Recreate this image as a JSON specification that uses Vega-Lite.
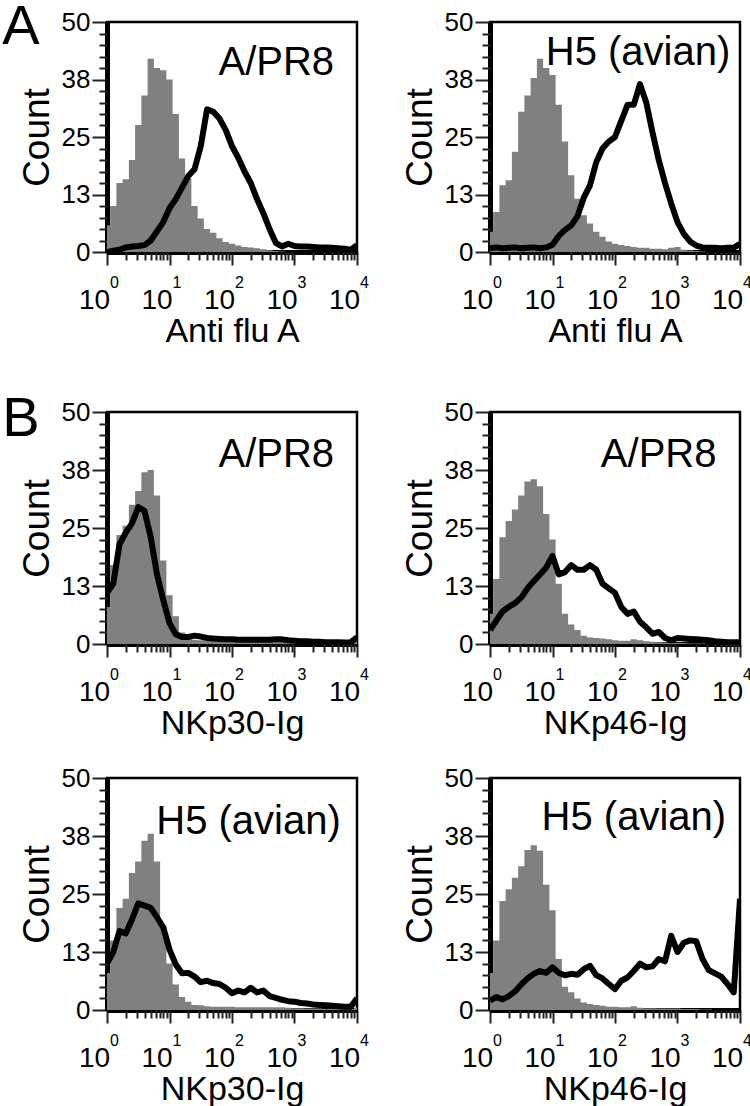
{
  "$schema": "https://vega.github.io/schema/vega-lite/v6.json",
  "padding": {"top": -3, "left": 0, "right": 0, "bottom": 0},
  "background": "white",
  "datasets": {
    "h": [
      {"fl":1,"a1g":5.8,"a1b":0,"a2g":4.4,"a2b":0.8,"b1g":8,"b1b":11,"b2g":6.5,"b2b":3,"b3g":8,"b3b":10,"b4g":8,"b4b":2},
      {"fl":1.259,"a1g":10,"a1b":0.3,"a2g":8.7,"a2b":1,"b1g":17,"b1b":13,"b2g":14,"b2b":5,"b3g":15,"b3b":12.5,"b4g":15,"b4b":2.8},
      {"fl":1.585,"a1g":15,"a1b":0.5,"a2g":14.5,"a2b":0.8,"b1g":23.5,"b1b":21.5,"b2g":23,"b2b":7,"b3g":22,"b3b":17,"b4g":23.5,"b4b":2.3},
      {"fl":1.995,"a1g":15.8,"a1b":1,"a2g":15.6,"a2b":0.9,"b1g":25.5,"b1b":24,"b2g":26.5,"b2b":8,"b3g":24,"b3b":16.5,"b4g":26,"b4b":3},
      {"fl":2.512,"a1g":20,"a1b":1.2,"a2g":21.8,"a2b":1,"b1g":30,"b1b":26,"b2g":29,"b2b":8.8,"b3g":29.5,"b3b":19.5,"b4g":28.5,"b4b":4},
      {"fl":3.162,"a1g":27.6,"a1b":1.3,"a2g":30.5,"a2b":0.8,"b1g":33,"b1b":29.5,"b2g":32,"b2b":10,"b3g":32,"b3b":23,"b4g":31,"b4b":5.5},
      {"fl":3.981,"a1g":34,"a1b":1.5,"a2g":34,"a2b":0.9,"b1g":37,"b1b":28.7,"b2g":35,"b2b":12,"b3g":36.5,"b3b":22.5,"b4g":34.5,"b4b":6.8},
      {"fl":5.012,"a1g":42,"a1b":2.5,"a2g":37.8,"a2b":1,"b1g":37.5,"b1b":23,"b2g":35.5,"b2b":13.5,"b3g":38,"b3b":22,"b4g":35.5,"b4b":7.8},
      {"fl":6.31,"a1g":40,"a1b":4.5,"a2g":42,"a2b":0.8,"b1g":32,"b1b":15,"b2g":34,"b2b":15,"b3g":32,"b3b":20,"b4g":34.3,"b4b":8.4},
      {"fl":7.943,"a1g":39.5,"a1b":6.5,"a2g":40,"a2b":1,"b1g":18,"b1b":9.5,"b2g":28,"b2b":16.5,"b3g":18,"b3b":17.8,"b4g":27,"b4b":8},
      {"fl":10,"a1g":37.5,"a1b":9.5,"a2g":38.5,"a2b":1.6,"b1g":10.5,"b1b":4.5,"b2g":22.5,"b2b":19,"b3g":10,"b3b":13,"b4g":21.5,"b4b":9.2},
      {"fl":12.59,"a1g":30,"a1b":11.5,"a2g":32,"a2b":3.5,"b1g":6,"b1b":2.1,"b2g":13,"b2b":15,"b3g":5.5,"b3b":9.8,"b4g":11,"b4b":8},
      {"fl":15.85,"a1g":20.3,"a1b":14,"a2g":24,"a2b":4.8,"b1g":2.5,"b1b":1.5,"b2g":6.5,"b2b":15.5,"b3g":2.8,"b3b":7.9,"b4g":5,"b4b":7.5},
      {"fl":19.95,"a1g":16,"a1b":16.5,"a2g":16.7,"a2b":5.8,"b1g":1.3,"b1b":1.5,"b2g":4.2,"b2b":17,"b3g":1.8,"b3b":8,"b4g":3.8,"b4b":7.8},
      {"fl":25.12,"a1g":10,"a1b":18,"a2g":11.6,"a2b":7.8,"b1g":0.9,"b1b":1.8,"b2g":3,"b2b":16,"b3g":1.1,"b3b":7.2,"b4g":2.5,"b4b":7.6},
      {"fl":31.62,"a1g":7.3,"a1b":23,"a2g":8,"a2b":11.8,"b1g":0.8,"b1b":1.6,"b2g":1.8,"b2b":16,"b3g":1,"b3b":6,"b4g":1.6,"b4b":8.8},
      {"fl":39.81,"a1g":5,"a1b":31,"a2g":6.2,"a2b":14.5,"b1g":0.7,"b1b":1.3,"b2g":1.4,"b2b":17,"b3g":0.8,"b3b":6.3,"b4g":1.3,"b4b":9.5},
      {"fl":50.12,"a1g":4.2,"a1b":30.5,"a2g":4.4,"a2b":19.5,"b1g":0.7,"b1b":1.2,"b2g":1.3,"b2b":16,"b3g":0.7,"b3b":5.8,"b4g":1.1,"b4b":7.5},
      {"fl":63.1,"a1g":3,"a1b":29,"a2g":3.3,"a2b":22.5,"b1g":0.6,"b1b":1.1,"b2g":1.2,"b2b":13,"b3g":0.7,"b3b":5.6,"b4g":0.9,"b4b":6.8},
      {"fl":79.43,"a1g":2.2,"a1b":26.5,"a2g":2.3,"a2b":24,"b1g":0.6,"b1b":1,"b2g":1,"b2b":12,"b3g":0.7,"b3b":4.8,"b4g":0.7,"b4b":5.6},
      {"fl":100,"a1g":1.8,"a1b":23,"a2g":1.8,"a2b":25,"b1g":0.6,"b1b":1,"b2g":0.8,"b2b":11,"b3g":0.7,"b3b":3.6,"b4g":0.7,"b4b":4.5},
      {"fl":125.9,"a1g":1.4,"a1b":20.5,"a2g":1.5,"a2b":28.5,"b1g":0.5,"b1b":0.9,"b2g":0.7,"b2b":8,"b3g":0.6,"b3b":4.2,"b4g":0.6,"b4b":6.3},
      {"fl":158.5,"a1g":1.1,"a1b":17.5,"a2g":1.3,"a2b":32,"b1g":0.5,"b1b":0.9,"b2g":0.7,"b2b":6.5,"b3g":0.6,"b3b":3.8,"b4g":0.6,"b4b":7},
      {"fl":199.5,"a1g":1,"a1b":15,"a2g":1.1,"a2b":32,"b1g":0.5,"b1b":0.9,"b2g":1,"b2b":7,"b3g":0.6,"b3b":4.8,"b4g":0.8,"b4b":8.4},
      {"fl":251.2,"a1g":0.8,"a1b":11.5,"a2g":0.9,"a2b":36.5,"b1g":0.5,"b1b":0.9,"b2g":0.8,"b2b":4.8,"b3g":0.6,"b3b":3.8,"b4g":0.5,"b4b":10},
      {"fl":316.2,"a1g":0.6,"a1b":8.5,"a2g":0.9,"a2b":32.5,"b1g":0.5,"b1b":0.9,"b2g":0.6,"b2b":3.6,"b3g":0.6,"b3b":4.2,"b4g":0.4,"b4b":9.2},
      {"fl":398.1,"a1g":0.4,"a1b":5,"a2g":0.7,"a2b":26,"b1g":0.5,"b1b":0.9,"b2g":0.5,"b2b":2.2,"b3g":0.6,"b3b":3,"b4g":0.4,"b4b":9.4},
      {"fl":501.2,"a1g":0.2,"a1b":2,"a2g":0.7,"a2b":20,"b1g":0.5,"b1b":1,"b2g":0.4,"b2b":2.6,"b3g":0.6,"b3b":2.6,"b4g":0.3,"b4b":11},
      {"fl":631,"a1g":0.1,"a1b":1.2,"a2g":0.6,"a2b":15,"b1g":0.5,"b1b":1,"b2g":0.3,"b2b":1.3,"b3g":0.6,"b3b":2.2,"b4g":0.3,"b4b":10.5},
      {"fl":794.3,"a1g":0,"a1b":1.8,"a2g":0.9,"a2b":10.5,"b1g":0.5,"b1b":0.8,"b2g":0.2,"b2b":0.8,"b3g":0.5,"b3b":1.9,"b4g":0.3,"b4b":16},
      {"fl":1000,"a1g":0,"a1b":1.3,"a2g":1.1,"a2b":6.5,"b1g":0.5,"b1b":0.7,"b2g":0.2,"b2b":1.3,"b3g":0.4,"b3b":1.8,"b4g":0.3,"b4b":12.5},
      {"fl":1259,"a1g":0,"a1b":1.2,"a2g":0.5,"a2b":4,"b1g":0.5,"b1b":0.6,"b2g":0.2,"b2b":1.2,"b3g":0.4,"b3b":1.5,"b4g":0.2,"b4b":14.5},
      {"fl":1585,"a1g":0,"a1b":1.2,"a2g":0.3,"a2b":2.3,"b1g":0.5,"b1b":0.6,"b2g":0.1,"b2b":1.1,"b3g":0.3,"b3b":1.4,"b4g":0.2,"b4b":15},
      {"fl":1995,"a1g":0,"a1b":1.1,"a2g":0.2,"a2b":1.4,"b1g":0.5,"b1b":0.5,"b2g":0.1,"b2b":1,"b3g":0.3,"b3b":1.2,"b4g":0.2,"b4b":14.8},
      {"fl":2512,"a1g":0,"a1b":1,"a2g":0.1,"a2b":1,"b1g":0.5,"b1b":0.5,"b2g":0.1,"b2b":0.9,"b3g":0.3,"b3b":1.1,"b4g":0.1,"b4b":11},
      {"fl":3162,"a1g":0,"a1b":1,"a2g":0,"a2b":0.9,"b1g":0.5,"b1b":0.4,"b2g":0,"b2b":0.8,"b3g":0.2,"b3b":1,"b4g":0.1,"b4b":8.6},
      {"fl":3981,"a1g":0,"a1b":0.9,"a2g":0,"a2b":0.9,"b1g":0.5,"b1b":0.4,"b2g":0,"b2b":0.6,"b3g":0.2,"b3b":0.9,"b4g":0,"b4b":7.9},
      {"fl":5012,"a1g":0,"a1b":0.8,"a2g":0,"a2b":0.8,"b1g":0.5,"b1b":0.4,"b2g":0,"b2b":0.5,"b3g":0.2,"b3b":0.8,"b4g":0,"b4b":7.2},
      {"fl":6310,"a1g":0,"a1b":0.7,"a2g":0,"a2b":0.9,"b1g":0.5,"b1b":0.3,"b2g":0,"b2b":0.4,"b3g":0.2,"b3b":0.7,"b4g":0,"b4b":5.6},
      {"fl":7943,"a1g":0,"a1b":0.5,"a2g":0,"a2b":0.9,"b1g":0.5,"b1b":0.4,"b2g":0,"b2b":0.4,"b3g":0.2,"b3b":0.7,"b4g":0,"b4b":3.8},
      {"fl":10000,"a1g":0,"a1b":1.5,"a2g":0,"a2b":1.8,"b1g":1,"b1b":1.4,"b2g":0,"b2b":0.4,"b3g":0.5,"b3b":2.5,"b4g":0,"b4b":24}
    ],
    "exp": [
      {"fl": 1, "e": "0"}, {"fl": 10, "e": "1"}, {"fl": 100, "e": "2"}, {"fl": 1000, "e": "3"}, {"fl": 10000, "e": "4"}
    ]
  },
  "vconcat": [
    {
      "hconcat": [
        {
          "width": 250, "height": 230,
          "resolve": {"axis": {"x": "independent", "y": "independent"}},
          "layer": [
            {"data": {"name": "h"}, "mark": {"type": "area", "interpolate": "step", "color": "#808080", "clip": true},
             "encoding": {
               "x": {"field": "fl", "type": "quantitative", "title": "Anti flu A", "scale": {"type": "log", "domain": [1, 10000], "nice": false},
                 "axis": {"orient": "bottom", "values": [1, 10, 100, 1000, 10000], "labelExpr": "'10'", "tickSize": 13}},
               "y": {"field": "a1g", "type": "quantitative", "title": "Count", "scale": {"domain": [0, 50], "nice": false},
                 "axis": {"orient": "left", "values": [0, 12.5, 25, 37.5, 50], "labelExpr": "datum.value == 12.5 ? '13' : datum.value == 37.5 ? '38' : datum.label", "tickSize": 15}}
             }},
            {"data": {"name": "h"}, "mark": {"type": "line", "color": "black", "strokeWidth": 6, "strokeJoin": "round", "clip": true},
             "encoding": {
               "x": {"field": "fl", "type": "quantitative", "axis": {"orient": "bottom", "values": [2,3,4,5,6,7,8,9,20,30,40,50,60,70,80,90,200,300,400,500,600,700,800,900,2000,3000,4000,5000,6000,7000,8000,9000], "labels": false, "title": null, "domain": false, "tickSize": 8}},
               "y": {"field": "a1b", "type": "quantitative", "axis": {"orient": "left", "values": [2.5,5,7.5,10,15,17.5,20,22.5,27.5,30,32.5,35,40,42.5,45,47.5], "labels": false, "title": null, "domain": false, "tickSize": 8}}
             }},
            {"data": {"name": "exp"}, "mark": {"type": "text", "align": "left", "baseline": "alphabetic", "fontSize": 16, "dx": 3, "dy": 36},
             "encoding": {"x": {"field": "fl", "type": "quantitative", "axis": null}, "y": {"datum": 0, "type": "quantitative", "axis": null}, "text": {"field": "e"}}},
            {"data": {"values": [{"t": "A/PR8"}]}, "mark": {"type": "text", "align": "right", "baseline": "alphabetic", "fontSize": 40},
             "encoding": {"x": {"datum": 4300, "type": "quantitative", "axis": null}, "y": {"datum": 38.4, "type": "quantitative", "axis": null}, "text": {"field": "t"}}},
            {"data": {"values": [{"t": "A"}]}, "mark": {"type": "text", "align": "left", "baseline": "alphabetic", "fontSize": 56},
             "encoding": {"x": {"datum": 0.021, "type": "quantitative", "axis": null}, "y": {"datum": 45.3, "type": "quantitative", "axis": null}, "text": {"field": "t"}}}
          ]
        },
        {
          "width": 250, "height": 230,
          "resolve": {"axis": {"x": "independent", "y": "independent"}},
          "layer": [
            {"data": {"name": "h"}, "mark": {"type": "area", "interpolate": "step", "color": "#808080", "clip": true},
             "encoding": {
               "x": {"field": "fl", "type": "quantitative", "title": "Anti flu A", "scale": {"type": "log", "domain": [1, 10000], "nice": false},
                 "axis": {"orient": "bottom", "values": [1, 10, 100, 1000, 10000], "labelExpr": "'10'", "tickSize": 13}},
               "y": {"field": "a2g", "type": "quantitative", "title": "Count", "scale": {"domain": [0, 50], "nice": false},
                 "axis": {"orient": "left", "values": [0, 12.5, 25, 37.5, 50], "labelExpr": "datum.value == 12.5 ? '13' : datum.value == 37.5 ? '38' : datum.label", "tickSize": 15}}
             }},
            {"data": {"name": "h"}, "mark": {"type": "line", "color": "black", "strokeWidth": 6, "strokeJoin": "round", "clip": true},
             "encoding": {
               "x": {"field": "fl", "type": "quantitative", "axis": {"orient": "bottom", "values": [2,3,4,5,6,7,8,9,20,30,40,50,60,70,80,90,200,300,400,500,600,700,800,900,2000,3000,4000,5000,6000,7000,8000,9000], "labels": false, "title": null, "domain": false, "tickSize": 8}},
               "y": {"field": "a2b", "type": "quantitative", "axis": {"orient": "left", "values": [2.5,5,7.5,10,15,17.5,20,22.5,27.5,30,32.5,35,40,42.5,45,47.5], "labels": false, "title": null, "domain": false, "tickSize": 8}}
             }},
            {"data": {"name": "exp"}, "mark": {"type": "text", "align": "left", "baseline": "alphabetic", "fontSize": 16, "dx": 3, "dy": 36},
             "encoding": {"x": {"field": "fl", "type": "quantitative", "axis": null}, "y": {"datum": 0, "type": "quantitative", "axis": null}, "text": {"field": "e"}}},
            {"data": {"values": [{"t": "H5 (avian)"}]}, "mark": {"type": "text", "align": "right", "baseline": "alphabetic", "fontSize": 40},
             "encoding": {"x": {"datum": 7000, "type": "quantitative", "axis": null}, "y": {"datum": 40.6, "type": "quantitative", "axis": null}, "text": {"field": "t"}}}
          ]
        }
      ],
      "spacing": 133,
      "bounds": "flush"
    },
    {
      "vconcat": [
        {
          "hconcat": [
            {
              "width": 250, "height": 232,
              "resolve": {"axis": {"x": "independent", "y": "independent"}},
              "layer": [
                {"data": {"name": "h"}, "mark": {"type": "area", "interpolate": "step", "color": "#808080", "clip": true},
                 "encoding": {
                   "x": {"field": "fl", "type": "quantitative", "title": "NKp30-Ig", "scale": {"type": "log", "domain": [1, 10000], "nice": false},
                     "axis": {"orient": "bottom", "values": [1, 10, 100, 1000, 10000], "labelExpr": "'10'", "tickSize": 13}},
                   "y": {"field": "b1g", "type": "quantitative", "title": "Count", "scale": {"domain": [0, 50], "nice": false},
                     "axis": {"orient": "left", "values": [0, 12.5, 25, 37.5, 50], "labelExpr": "datum.value == 12.5 ? '13' : datum.value == 37.5 ? '38' : datum.label", "tickSize": 15}}
                 }},
                {"data": {"name": "h"}, "mark": {"type": "line", "color": "black", "strokeWidth": 6, "strokeJoin": "round", "clip": true},
                 "encoding": {
                   "x": {"field": "fl", "type": "quantitative", "axis": {"orient": "bottom", "values": [2,3,4,5,6,7,8,9,20,30,40,50,60,70,80,90,200,300,400,500,600,700,800,900,2000,3000,4000,5000,6000,7000,8000,9000], "labels": false, "title": null, "domain": false, "tickSize": 8}},
                   "y": {"field": "b1b", "type": "quantitative", "axis": {"orient": "left", "values": [2.5,5,7.5,10,15,17.5,20,22.5,27.5,30,32.5,35,40,42.5,45,47.5], "labels": false, "title": null, "domain": false, "tickSize": 8}}
                 }},
                {"data": {"name": "exp"}, "mark": {"type": "text", "align": "left", "baseline": "alphabetic", "fontSize": 16, "dx": 3, "dy": 36},
                 "encoding": {"x": {"field": "fl", "type": "quantitative", "axis": null}, "y": {"datum": 0, "type": "quantitative", "axis": null}, "text": {"field": "e"}}},
                {"data": {"values": [{"t": "A/PR8"}]}, "mark": {"type": "text", "align": "right", "baseline": "alphabetic", "fontSize": 40},
                 "encoding": {"x": {"datum": 4300, "type": "quantitative", "axis": null}, "y": {"datum": 38.1, "type": "quantitative", "axis": null}, "text": {"field": "t"}}},
                {"data": {"values": [{"t": "B"}]}, "mark": {"type": "text", "align": "left", "baseline": "alphabetic", "fontSize": 56},
                 "encoding": {"x": {"datum": 0.021, "type": "quantitative", "axis": null}, "y": {"datum": 44.8, "type": "quantitative", "axis": null}, "text": {"field": "t"}}}
              ]
            },
            {
              "width": 250, "height": 232,
              "resolve": {"axis": {"x": "independent", "y": "independent"}},
              "layer": [
                {"data": {"name": "h"}, "mark": {"type": "area", "interpolate": "step", "color": "#808080", "clip": true},
                 "encoding": {
                   "x": {"field": "fl", "type": "quantitative", "title": "NKp46-Ig", "scale": {"type": "log", "domain": [1, 10000], "nice": false},
                     "axis": {"orient": "bottom", "values": [1, 10, 100, 1000, 10000], "labelExpr": "'10'", "tickSize": 13}},
                   "y": {"field": "b2g", "type": "quantitative", "title": "Count", "scale": {"domain": [0, 50], "nice": false},
                     "axis": {"orient": "left", "values": [0, 12.5, 25, 37.5, 50], "labelExpr": "datum.value == 12.5 ? '13' : datum.value == 37.5 ? '38' : datum.label", "tickSize": 15}}
                 }},
                {"data": {"name": "h"}, "mark": {"type": "line", "color": "black", "strokeWidth": 6, "strokeJoin": "round", "clip": true},
                 "encoding": {
                   "x": {"field": "fl", "type": "quantitative", "axis": {"orient": "bottom", "values": [2,3,4,5,6,7,8,9,20,30,40,50,60,70,80,90,200,300,400,500,600,700,800,900,2000,3000,4000,5000,6000,7000,8000,9000], "labels": false, "title": null, "domain": false, "tickSize": 8}},
                   "y": {"field": "b2b", "type": "quantitative", "axis": {"orient": "left", "values": [2.5,5,7.5,10,15,17.5,20,22.5,27.5,30,32.5,35,40,42.5,45,47.5], "labels": false, "title": null, "domain": false, "tickSize": 8}}
                 }},
                {"data": {"name": "exp"}, "mark": {"type": "text", "align": "left", "baseline": "alphabetic", "fontSize": 16, "dx": 3, "dy": 36},
                 "encoding": {"x": {"field": "fl", "type": "quantitative", "axis": null}, "y": {"datum": 0, "type": "quantitative", "axis": null}, "text": {"field": "e"}}},
                {"data": {"values": [{"t": "A/PR8"}]}, "mark": {"type": "text", "align": "right", "baseline": "alphabetic", "fontSize": 40},
                 "encoding": {"x": {"datum": 4200, "type": "quantitative", "axis": null}, "y": {"datum": 38.1, "type": "quantitative", "axis": null}, "text": {"field": "t"}}}
              ]
            }
          ],
          "spacing": 133,
          "bounds": "flush"
        },
        {
          "hconcat": [
            {
              "width": 250, "height": 232,
              "resolve": {"axis": {"x": "independent", "y": "independent"}},
              "layer": [
                {"data": {"name": "h"}, "mark": {"type": "area", "interpolate": "step", "color": "#808080", "clip": true},
                 "encoding": {
                   "x": {"field": "fl", "type": "quantitative", "title": "NKp30-Ig", "scale": {"type": "log", "domain": [1, 10000], "nice": false},
                     "axis": {"orient": "bottom", "values": [1, 10, 100, 1000, 10000], "labelExpr": "'10'", "tickSize": 13}},
                   "y": {"field": "b3g", "type": "quantitative", "title": "Count", "scale": {"domain": [0, 50], "nice": false},
                     "axis": {"orient": "left", "values": [0, 12.5, 25, 37.5, 50], "labelExpr": "datum.value == 12.5 ? '13' : datum.value == 37.5 ? '38' : datum.label", "tickSize": 15}}
                 }},
                {"data": {"name": "h"}, "mark": {"type": "line", "color": "black", "strokeWidth": 6, "strokeJoin": "round", "clip": true},
                 "encoding": {
                   "x": {"field": "fl", "type": "quantitative", "axis": {"orient": "bottom", "values": [2,3,4,5,6,7,8,9,20,30,40,50,60,70,80,90,200,300,400,500,600,700,800,900,2000,3000,4000,5000,6000,7000,8000,9000], "labels": false, "title": null, "domain": false, "tickSize": 8}},
                   "y": {"field": "b3b", "type": "quantitative", "axis": {"orient": "left", "values": [2.5,5,7.5,10,15,17.5,20,22.5,27.5,30,32.5,35,40,42.5,45,47.5], "labels": false, "title": null, "domain": false, "tickSize": 8}}
                 }},
                {"data": {"name": "exp"}, "mark": {"type": "text", "align": "left", "baseline": "alphabetic", "fontSize": 16, "dx": 3, "dy": 36},
                 "encoding": {"x": {"field": "fl", "type": "quantitative", "axis": null}, "y": {"datum": 0, "type": "quantitative", "axis": null}, "text": {"field": "e"}}},
                {"data": {"values": [{"t": "H5 (avian)"}]}, "mark": {"type": "text", "align": "right", "baseline": "alphabetic", "fontSize": 40},
                 "encoding": {"x": {"datum": 5500, "type": "quantitative", "axis": null}, "y": {"datum": 37.9, "type": "quantitative", "axis": null}, "text": {"field": "t"}}},
                {"data": {"values": [{"t": " "}]}, "mark": {"type": "text", "align": "left", "baseline": "alphabetic", "fontSize": 56},
                 "encoding": {"x": {"datum": 0.021, "type": "quantitative", "axis": null}, "y": {"datum": 25, "type": "quantitative", "axis": null}, "text": {"field": "t"}}}
              ]
            },
            {
              "width": 250, "height": 232,
              "resolve": {"axis": {"x": "independent", "y": "independent"}},
              "layer": [
                {"data": {"name": "h"}, "mark": {"type": "area", "interpolate": "step", "color": "#808080", "clip": true},
                 "encoding": {
                   "x": {"field": "fl", "type": "quantitative", "title": "NKp46-Ig", "scale": {"type": "log", "domain": [1, 10000], "nice": false},
                     "axis": {"orient": "bottom", "values": [1, 10, 100, 1000, 10000], "labelExpr": "'10'", "tickSize": 13}},
                   "y": {"field": "b4g", "type": "quantitative", "title": "Count", "scale": {"domain": [0, 50], "nice": false},
                     "axis": {"orient": "left", "values": [0, 12.5, 25, 37.5, 50], "labelExpr": "datum.value == 12.5 ? '13' : datum.value == 37.5 ? '38' : datum.label", "tickSize": 15}}
                 }},
                {"data": {"name": "h"}, "mark": {"type": "line", "color": "black", "strokeWidth": 6, "strokeJoin": "round", "clip": true},
                 "encoding": {
                   "x": {"field": "fl", "type": "quantitative", "axis": {"orient": "bottom", "values": [2,3,4,5,6,7,8,9,20,30,40,50,60,70,80,90,200,300,400,500,600,700,800,900,2000,3000,4000,5000,6000,7000,8000,9000], "labels": false, "title": null, "domain": false, "tickSize": 8}},
                   "y": {"field": "b4b", "type": "quantitative", "axis": {"orient": "left", "values": [2.5,5,7.5,10,15,17.5,20,22.5,27.5,30,32.5,35,40,42.5,45,47.5], "labels": false, "title": null, "domain": false, "tickSize": 8}}
                 }},
                {"data": {"name": "exp"}, "mark": {"type": "text", "align": "left", "baseline": "alphabetic", "fontSize": 16, "dx": 3, "dy": 36},
                 "encoding": {"x": {"field": "fl", "type": "quantitative", "axis": null}, "y": {"datum": 0, "type": "quantitative", "axis": null}, "text": {"field": "e"}}},
                {"data": {"values": [{"t": "H5 (avian)"}]}, "mark": {"type": "text", "align": "right", "baseline": "alphabetic", "fontSize": 40},
                 "encoding": {"x": {"datum": 6000, "type": "quantitative", "axis": null}, "y": {"datum": 38.8, "type": "quantitative", "axis": null}, "text": {"field": "t"}}}
              ]
            }
          ],
          "spacing": 133,
          "bounds": "flush"
        }
      ],
      "spacing": 21
    }
  ],
  "spacing": 39,
  "config": {
    "font": "Liberation Sans",
    "view": {"stroke": "black", "strokeWidth": 2.5},
    "axis": {"domainColor": "black", "domainWidth": 5, "ticks": true, "tickColor": "#222222", "tickWidth": 2, "labelColor": "black", "titleColor": "black", "titleFontWeight": "normal", "grid": false, "zindex": 1, "labelOverlap": false, "labelFlush": false, "labelBound": false, "labelFont": "Liberation Sans", "titleFont": "Liberation Sans"},
    "axisX": {"labelFontSize": 28, "labelPadding": 21, "labelOffset": -13, "titleFontSize": 34, "titlePadding": 0},
    "axisY": {"labelFontSize": 26, "labelPadding": 2, "titleFontSize": 37, "titlePadding": 5},
    "text": {"color": "black", "font": "Liberation Sans"}
  }
}
